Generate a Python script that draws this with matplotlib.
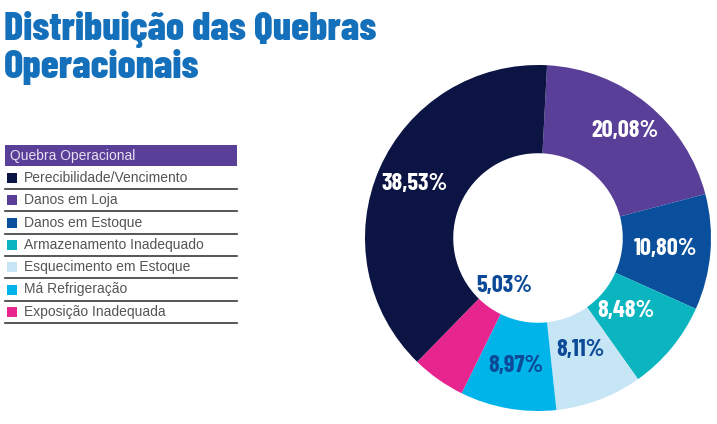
import matplotlib.pyplot as plt
import numpy as np

# data
categories = [
    "Perecibilidade/Vencimento",
    "Danos em Loja",
    "Danos em Estoque",
    "Armazenamento Inadequado",
    "Esquecimento em Estoque",
    "Má Refrigeração",
    "Exposição Inadequada",
]
values = [38.53, 20.08, 10.80, 8.48, 8.11, 8.97, 5.03]
colors = ["#0b1442", "#5a3f98", "#0a4f9b", "#0bb5c0", "#c6e5f5", "#00b3e9", "#e7258f"]
label_colors = ["white", "white", "white", "white", "#0c4a98", "#0c4a98", "#0c4a98"]
label_radius = [0.78, 0.80, 0.74, 0.66, 0.69, 0.75, 0.34]

title_lines = ["Distribuição das Quebras", "Operacionais"]
legend_header = "Quebra Operacional"

# pie drawn clockwise starting with "Danos em Loja"
pie_order = [1, 2, 3, 4, 5, 6, 0]

COND = ["Barlow Condensed", "DejaVu Sans"]

W, H = 717, 424
fig = plt.figure(figsize=(W / 100, H / 100), dpi=100)

# background axes in pixel coordinates for title and legend table
bg = fig.add_axes([0, 0, 1, 1])
bg.set_xlim(0, W)
bg.set_ylim(H, 0)
bg.axis("off")

for i, line in enumerate(title_lines):
    bg.text(4, 40 + i * 38, line, ha="left", va="baseline", color="#1470ba",
            fontsize=29, fontweight=800, family=COND)

# legend table
bg.add_patch(plt.Rectangle((5, 145), 232, 21, color="#5a3f98", lw=0))
bg.text(10, 156, legend_header, ha="left", va="center", color="#e6e0f2",
        fontsize=10, family="Liberation Sans")
row_h = 22.3
for i, (cat, col) in enumerate(zip(categories, colors)):
    yc = 178 + i * row_h
    bg.add_patch(plt.Rectangle((7, yc - 5), 10, 10, color=col, lw=0))
    bg.text(24, yc, cat, ha="left", va="center", color="#555555",
            fontsize=10, family="Liberation Sans")
    bg.plot([5, 237], [yc + 11, yc + 11], color="#3a3a3a", lw=1.2)

# donut
cx, cy, r = 538, 238, 173
ax = fig.add_axes([(cx - r) / W, (H - cy - r) / H, 2 * r / W, 2 * r / H])
vals = [values[i] for i in pie_order]
cols = [colors[i] for i in pie_order]
wedges, _ = ax.pie(vals, colors=cols, startangle=87, counterclock=False,
                   radius=1, wedgeprops=dict(width=0.51, linewidth=0))
for w, idx in zip(wedges, pie_order):
    ang = np.deg2rad((w.theta1 + w.theta2) / 2)
    rr = label_radius[idx]
    txt = f"{values[idx]:.2f}%".replace(".", ",")
    ax.text(rr * np.cos(ang), rr * np.sin(ang), txt, ha="center", va="center",
            color=label_colors[idx], fontsize=17.5, fontweight="bold", family=COND)
ax.set_xlim(-1, 1)
ax.set_ylim(-1, 1)
ax.set_aspect("equal")

fig.savefig("out.png", dpi=100)
